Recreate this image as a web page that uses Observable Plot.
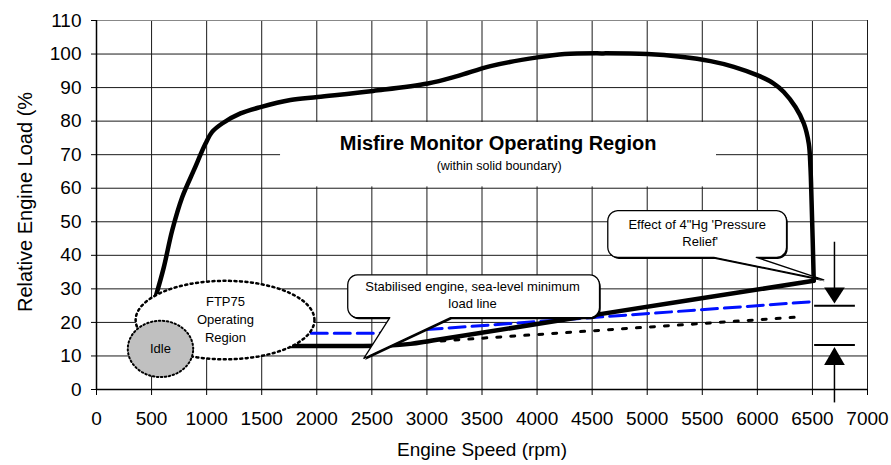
<!DOCTYPE html>
<html><head><meta charset="utf-8">
<script src="https://cdn.jsdelivr.net/npm/d3@7"></script>
<script src="https://cdn.jsdelivr.net/npm/@observablehq/plot@0.6"></script>
<style>body{margin:0;background:#fff}</style>
</head><body><div id="chart"></div>
<script>
// ---- data (rpm, % load) ----
const xTicks = [0,500,1000,1500,2000,2500,3000,3500,4000,4500,5000,5500,6000,6500,7000];
const yTicks = [0,10,20,30,40,50,60,70,80,90,100,110];

// upper/outer part of the misfire monitor boundary (from the corner at 6500 rpm round to the left)
const boundaryUpper = [
  [6512,32.4],[6502,45],[6492,56.4],[6482,66.3],[6467,73.3],[6422,79.3],[6346,84.2],[6240,88.7],
  [6149,91.2],[5998,93.7],[5786,96.2],[5575,97.9],[5304,99.2],[5000,100],[4600,100.2],[4250,100],
  [4004,99.0],[3577,96.4],[3275,93.4],[3008,91.2],[2512,89.0],[2009,87.2],[1761,86.3],[1489,84.2],
  [1307,82.3],[1141,79.3],[1050,76.8],[990,73.3],[883,65.3],[778,57.3],[687,47.4],[611,36.4],[535,27.4]
];
// lower part of the boundary (minimum load line)
const boundaryLower = [[1700,13],[2300,13],[2650,13.1],[2850,13.6],[3050,14.6],[4500,22.1],[6512,32.4]];
const blueDashed = [[1950,16.8],[2550,16.8],[6510,26.2]];
const blackDotted = [[3000,14.2],[6420,21.7]];

// annotations
const titleMain = [{x:3646,y:73.4,t:"Misfire Monitor Operating Region"}];
const titleSub = [{x:3656,y:66.5,t:"(within solid boundary)"}];
const ftpRegion = {cx:1167, cy:20.7, rx:812, ry:11.7};
const idleRegion = {cx:581, cy:12.1, rx:297, ry:8.4};
const ftpLabel = [{x:1171,y:26.2,t:"FTP75"},{x:1171,y:20.8,t:"Operating"},{x:1171,y:15.5,t:"Region"}];
const idleLabel = [{x:581,y:12.2,t:"Idle"}];
const callout1 = {x1:2281,x2:4567,y1:21.4,y2:34.2,bl:2663,br:3214,tip:[2427,9.3]};
const callout1Text = [{x:3414,y:30.6,t:"Stabilised engine, sea-level minimum"},{x:3414,y:25.6,t:"load line"}];
const callout2 = {x1:4642,x2:6265,y1:39.4,y2:53.3,bl:5605,br:5990,tip:[6603,32.7]};
const callout2Text = [{x:5454,y:49.2,t:"Effect of 4\"Hg 'Pressure"},{x:5481,y:44.1,t:"Relief'"}];
const whiteBand = [{x1:1671,x2:5629,y1:60.4,y2:79.6}];
const arrowX = 6700;
const arrowBars = [{y:25.0,x1:6520,x2:6890},{y:13.3,x1:6520,x2:6890}];
const arrowShafts = [{y1:43.9,y2:29},{y1:8,y2:-4}];
const headTop = [[6606,30.4],[6794,30.4],[6700,25.6]];
const headBottom = [[6606,7.3],[6794,7.3],[6700,12.7]];

// ---- geometry helpers ----
function ellipse(e, n = 90) {
  return d3.range(n).map(i => {
    const a = 2 * Math.PI * i / n;
    return [e.cx + e.rx * Math.cos(a), e.cy + e.ry * Math.sin(a)];
  });
}
function callout(c) {
  const rx = 90, ry = 3.0; // corner radii in data units
  const pts = [];
  const arc = (cx, cy, a0, a1) => { for (let k = 0; k <= 6; k++) { const a = a0 + (a1 - a0) * k / 6; pts.push([cx + rx * Math.cos(a), cy + ry * Math.sin(a)]); } };
  arc(c.x1 + rx, c.y2 - ry, Math.PI, Math.PI / 2);
  arc(c.x2 - rx, c.y2 - ry, Math.PI / 2, 0);
  arc(c.x2 - rx, c.y1 + ry, 0, -Math.PI / 2);
  pts.push([c.br, c.y1]); pts.push(c.tip); pts.push([c.bl, c.y1]);
  arc(c.x1 + rx, c.y1 + ry, -Math.PI / 2, -Math.PI);
  return pts;
}
const X = d => d[0], Y = d => d[1];
const FONT = "'Liberation Sans', Arial, Helvetica, sans-serif";

const chart = Plot.plot({
  width: 891, height: 465,
  marginLeft: 96, marginRight: 24, marginTop: 20, marginBottom: 76,
  style: {fontFamily: FONT, fontSize: "19px", color: "#000", background: "#fff"},
  x: {domain: [0, 7000], axis: null},
  y: {domain: [0, 110], axis: null},
  marks: [
    Plot.ruleX(xTicks, {stroke: "#1a1a1a", strokeWidth: 1}),
    Plot.ruleY(yTicks.filter(v => v !== 110), {stroke: "#1a1a1a", strokeWidth: 1}),
    Plot.ruleY([110], {stroke: "#888", strokeWidth: 1}),
    Plot.rect(whiteBand, {x1: "x1", x2: "x2", y1: "y1", y2: "y2", fill: "white"}),
    Plot.ruleX([0], {stroke: "#000", strokeWidth: 1.5}),
    Plot.ruleY([0], {stroke: "#000", strokeWidth: 1.5}),
    Plot.axisX({ticks: xTicks, tickSize: 6, tickPadding: 16, label: null, fontSize: 19, tickFormat: d => String(d)}),
    Plot.axisY({ticks: yTicks, tickSize: 5, tickPadding: 10, label: null, fontSize: 19, tickFormat: d => String(d)}),
    Plot.line(blueDashed, {x: X, y: Y, stroke: "#0010ff", strokeWidth: 3, strokeDasharray: "16,7"}),
    Plot.line(blackDotted, {x: X, y: Y, stroke: "#000", strokeWidth: 3, strokeDasharray: "4,10"}),
    Plot.line(boundaryLower, {x: X, y: Y, stroke: "#000", strokeWidth: 4.5, curve: "catmull-rom"}),
    Plot.line(boundaryUpper, {x: X, y: Y, stroke: "#000", strokeWidth: 4.5, curve: "catmull-rom", strokeLinejoin: "miter"}),
    // callout 1
    Plot.line(callout(callout1), {x: X, y: Y, curve: "linear-closed", fill: "#000", dx: 1.2, dy: 1.6}),
    Plot.line(callout(callout1), {x: X, y: Y, curve: "linear-closed", fill: "white", stroke: "#000", strokeWidth: 1.3}),
    Plot.text(callout1Text, {x: "x", y: "y", text: "t", fontSize: 13}),
    // FTP75 and idle regions
    Plot.line(ellipse(ftpRegion), {x: X, y: Y, curve: "linear-closed", fill: "white", stroke: "#000", strokeWidth: 2.5, strokeDasharray: "2,3.5"}),
    Plot.text(ftpLabel, {x: "x", y: "y", text: "t", fontSize: 13}),
    Plot.line(ellipse(idleRegion), {x: X, y: Y, curve: "linear-closed", fill: "#c0c0c0", stroke: "#000", strokeWidth: 2, strokeDasharray: "1.5,2.5"}),
    Plot.text(idleLabel, {x: "x", y: "y", text: "t", fontSize: 13}),
    // callout 2
    Plot.line(callout(callout2), {x: X, y: Y, curve: "linear-closed", fill: "#000", dx: 1.2, dy: 1.6}),
    Plot.line(callout(callout2), {x: X, y: Y, curve: "linear-closed", fill: "white", stroke: "#000", strokeWidth: 1.3}),
    Plot.text(callout2Text, {x: "x", y: "y", text: "t", fontSize: 13}),
    // title in the band
    Plot.text(titleMain, {x: "x", y: "y", text: "t", fontSize: 20, fontWeight: "bold"}),
    Plot.text(titleSub, {x: "x", y: "y", text: "t", fontSize: 12.5}),
    // pressure relief arrows
    Plot.ruleX(arrowShafts, {x: () => arrowX, y1: "y1", y2: "y2", stroke: "#000", strokeWidth: 1.5}),
    Plot.line(headTop, {x: X, y: Y, curve: "linear-closed", fill: "#000"}),
    Plot.line(headBottom, {x: X, y: Y, curve: "linear-closed", fill: "#000"}),
    Plot.ruleY(arrowBars, {y: "y", x1: "x1", x2: "x2", stroke: "#000", strokeWidth: 2}),
    // axis titles
    Plot.text(["Engine Speed (rpm)"], {text: d => d, frameAnchor: "bottom", dy: 66, fontSize: 19}),
    Plot.text(["Relative Engine Load (%"], {text: d => d, frameAnchor: "left", textAnchor: "middle", dx: -71, dy: -3, rotate: -90, fontSize: 20})
  ]
});
document.getElementById("chart").appendChild(chart);
</script>
</body></html>
